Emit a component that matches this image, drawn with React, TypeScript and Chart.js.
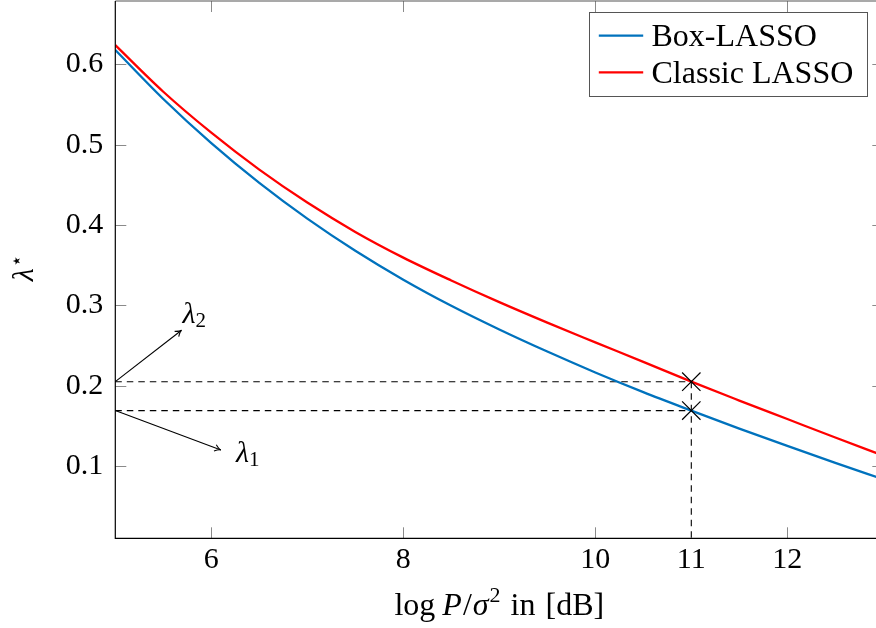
import React, { useEffect, useRef } from "react";
import { Chart, registerables } from "chart.js";

Chart.register(...registerables);

// SNR grid in dB
const snrDb = [5, 5.5, 6, 6.5, 7, 7.5, 8, 8.5, 9, 9.5, 10, 10.5, 11, 11.5, 12, 12.5, 13];
// optimal regularisation parameter lambda* per method
const boxLasso = [0.618, 0.557, 0.502, 0.4525, 0.408, 0.368, 0.332, 0.2995, 0.270, 0.2425, 0.2165, 0.192, 0.169, 0.1465, 0.125, 0.104, 0.0835];
const classicLasso = [0.624, 0.566, 0.515, 0.469, 0.428, 0.3915, 0.3595, 0.331, 0.304, 0.2785, 0.254, 0.2297, 0.205, 0.1815, 0.1585, 0.1355, 0.113];

const seriesNames = ["Box-LASSO", "Classic LASSO"];
const seriesColors = ["#0072BD", "#FF0000"];

const xTickValues = [6, 8, 10, 11, 12];
const xTickMarks = [6, 8, 10, 12];
const yTickValues = [0.1, 0.2, 0.3, 0.4, 0.5, 0.6];

// operating point and the lambda values picked there
const operatingSnr = 11;
const lambda1 = 0.169; // Box-LASSO
const lambda2 = 0.205; // Classic LASSO

const SERIF = "'Liberation Serif', 'Times New Roman', serif";

function drawArrow(ctx: CanvasRenderingContext2D, x0: number, y0: number, x1: number, y1: number) {
  ctx.beginPath();
  ctx.moveTo(x0, y0);
  ctx.lineTo(x1, y1);
  ctx.stroke();
  const ang = Math.atan2(y1 - y0, x1 - x0);
  const len = 7;
  ctx.beginPath();
  ctx.moveTo(x1 - len * Math.cos(ang - 0.5), y1 - len * Math.sin(ang - 0.5));
  ctx.quadraticCurveTo(x1 - 2 * Math.cos(ang), y1 - 2 * Math.sin(ang), x1, y1);
  ctx.quadraticCurveTo(x1 - 2 * Math.cos(ang), y1 - 2 * Math.sin(ang), x1 - len * Math.cos(ang + 0.5), y1 - len * Math.sin(ang + 0.5));
  ctx.stroke();
}

function drawLambda(ctx: CanvasRenderingContext2D, x: number, y: number, sub: string) {
  ctx.font = `italic 30px ${SERIF}`;
  ctx.textAlign = "left";
  ctx.textBaseline = "alphabetic";
  ctx.fillText("λ", x, y);
  const w = ctx.measureText("λ").width;
  ctx.font = `21px ${SERIF}`;
  ctx.fillText(sub, x + w, y + 4);
}

const framePlugin = {
  id: "frame",
  beforeDatasetsDraw(chart: any) {
    const { ctx, chartArea: a, scales } = chart;
    const x = scales.x;
    const y = scales.y;
    const px = x.getPixelForValue(operatingSnr);
    ctx.save();
    ctx.strokeStyle = "#000";
    ctx.lineWidth = 1.1;
    ctx.setLineDash([6.5, 5]);
    [lambda2, lambda1].forEach((v) => {
      const py = y.getPixelForValue(v);
      ctx.beginPath();
      ctx.moveTo(a.left, py);
      ctx.lineTo(px, py);
      ctx.stroke();
    });
    ctx.beginPath();
    ctx.moveTo(px, y.getPixelForValue(lambda2));
    ctx.lineTo(px, a.bottom);
    ctx.stroke();
    ctx.restore();
  },
  afterDraw(chart: any) {
    const { ctx, chartArea: a, scales } = chart;
    const x = scales.x;
    const y = scales.y;
    ctx.save();

    // inward tick marks on all four sides
    ctx.strokeStyle = "#8a8a8a";
    ctx.lineWidth = 1;
    const tl = 11;
    xTickMarks.forEach((v) => {
      const px = Math.round(x.getPixelForValue(v)) + 0.5;
      ctx.beginPath();
      ctx.moveTo(px, a.bottom);
      ctx.lineTo(px, a.bottom - tl);
      ctx.moveTo(px, a.top);
      ctx.lineTo(px, a.top + tl);
      ctx.stroke();
    });
    yTickValues.forEach((v) => {
      const py = Math.round(y.getPixelForValue(v)) + 0.5;
      ctx.beginPath();
      ctx.moveTo(a.left, py);
      ctx.lineTo(a.left + tl, py);
      ctx.moveTo(a.right, py);
      ctx.lineTo(a.right - tl, py);
      ctx.stroke();
    });

    // axis box
    ctx.lineWidth = 1.2;
    ctx.strokeStyle = "#555";
    ctx.beginPath();
    ctx.moveTo(a.left, a.top);
    ctx.lineTo(a.right, a.top);
    ctx.lineTo(a.right, a.bottom);
    ctx.stroke();
    ctx.strokeStyle = "#000";
    ctx.beginPath();
    ctx.moveTo(a.left, a.top);
    ctx.lineTo(a.left, a.bottom);
    ctx.lineTo(a.right, a.bottom);
    ctx.stroke();

    // lambda annotations
    ctx.strokeStyle = "#000";
    ctx.fillStyle = "#000";
    ctx.lineWidth = 1.1;
    drawArrow(ctx, a.left, y.getPixelForValue(lambda2), x.getPixelForValue(5.69), y.getPixelForValue(0.269));
    drawArrow(ctx, a.left, y.getPixelForValue(lambda1), x.getPixelForValue(6.1), y.getPixelForValue(0.12));
    drawLambda(ctx, x.getPixelForValue(5.7), y.getPixelForValue(0.278), "2");
    drawLambda(ctx, x.getPixelForValue(6.257), y.getPixelForValue(0.1045), "1");

    // x-axis title: log P/σ² in [dB]
    const parts: [string, string, number, number][] = [
      ["log", `32px ${SERIF}`, 0, 0],
      ["P", `italic 32px ${SERIF}`, 0, 7],
      ["/", `32px ${SERIF}`, 0, 1],
      ["σ", `italic 32px ${SERIF}`, 0, 1],
      ["2", `22px ${SERIF}`, -13, 1],
      ["in", `32px ${SERIF}`, 0, 10],
      ["[dB]", `32px ${SERIF}`, 0, 10],
    ];
    let total = 0;
    const widths = parts.map(([t, f, , gap]) => {
      ctx.font = f;
      const w = ctx.measureText(t).width;
      total += w + gap;
      return w;
    });
    let cx = (a.left + a.right) / 2 - total / 2;
    const base = 615;
    ctx.textAlign = "left";
    ctx.textBaseline = "alphabetic";
    parts.forEach(([t, f, dy, gap], i) => {
      cx += gap;
      ctx.font = f;
      ctx.fillText(t, cx, base + dy);
      cx += widths[i];
    });

    // y-axis title: λ*
    ctx.save();
    ctx.font = `italic 30px ${SERIF}`;
    const lw = ctx.measureText("λ").width;
    const midY = (a.top + a.bottom) / 2;
    ctx.translate(33, midY + (lw + 10) / 2);
    ctx.rotate(-Math.PI / 2);
    ctx.fillText("λ", 0, 0);
    ctx.font = `20px 'DejaVu Sans', sans-serif`;
    ctx.fillText("⋆", lw + 1, -10);
    ctx.restore();

    // legend
    ctx.font = `32px ${SERIF}`;
    const textW = Math.max(...seriesNames.map((n) => ctx.measureText(n).width));
    const boxW = 62.7 + textW + 14;
    const boxR = a.right - 16;
    const boxL = boxR - boxW;
    const boxT = a.top + 11.3;
    const boxH = 84.4;
    ctx.fillStyle = "#fff";
    ctx.fillRect(boxL, boxT, boxW, boxH);
    ctx.strokeStyle = "#555";
    ctx.lineWidth = 1;
    ctx.strokeRect(Math.round(boxL) + 0.5, Math.round(boxT) + 0.5, Math.round(boxW), Math.round(boxH));
    seriesNames.forEach((name, i) => {
      const ly = boxT + 23.4 + i * 36.6;
      ctx.strokeStyle = seriesColors[i];
      ctx.lineWidth = 2.2;
      ctx.beginPath();
      ctx.moveTo(boxL + 10, ly);
      ctx.lineTo(boxL + 54.4, ly);
      ctx.stroke();
      ctx.fillStyle = "#000";
      ctx.textBaseline = "alphabetic";
      ctx.fillText(name, boxL + 62.7, ly + 10.5);
    });

    ctx.restore();
  },
};

export default function App() {
  const canvasRef = useRef<HTMLCanvasElement | null>(null);

  useEffect(() => {
    const canvas = canvasRef.current;
    if (!canvas) return;
    const toPoints = (vals: number[]) => snrDb.map((s, i) => ({ x: s, y: vals[i] }));
    const chart = new Chart(canvas, {
      type: "line",
      data: {
        datasets: [
          {
            label: "markers",
            data: [
              { x: operatingSnr, y: lambda2 },
              { x: operatingSnr, y: lambda1 },
            ],
            showLine: false,
            pointStyle: "crossRot",
            pointRadius: 13,
            pointBorderColor: "#000",
            pointBorderWidth: 1.2,
            borderColor: "#000",
            order: 0,
          },
          {
            label: seriesNames[1],
            data: toPoints(classicLasso),
            borderColor: seriesColors[1],
            borderWidth: 2.3,
            pointRadius: 0,
            cubicInterpolationMode: "monotone",
            fill: false,
            order: 1,
          },
          {
            label: seriesNames[0],
            data: toPoints(boxLasso),
            borderColor: seriesColors[0],
            borderWidth: 2.3,
            pointRadius: 0,
            cubicInterpolationMode: "monotone",
            fill: false,
            order: 2,
          },
        ],
      },
      options: {
        animation: false,
        responsive: false,
        events: [],
        layout: { autoPadding: false, padding: { top: 1, right: 6.7, left: 0, bottom: 0 } },
        plugins: { legend: { display: false }, tooltip: { enabled: false } },
        scales: {
          x: {
            type: "linear",
            min: 5,
            max: 13,
            grid: { display: false, drawTicks: false },
            border: { display: false },
            afterBuildTicks: (s: any) => {
              s.ticks = xTickValues.map((v) => ({ value: v }));
            },
            afterFit: (s: any) => {
              s.height = 89.7;
              s.paddingLeft = 0;
              s.paddingRight = 0;
            },
            ticks: {
              font: { family: SERIF, size: 30 },
              color: "#000",
              padding: 4,
              maxRotation: 0,
              autoSkip: false,
              callback: (v: any) => String(v),
            },
          },
          y: {
            type: "linear",
            min: 0.01,
            max: 0.679,
            grid: { display: false, drawTicks: false },
            border: { display: false },
            afterBuildTicks: (s: any) => {
              s.ticks = yTickValues.map((v) => ({ value: v }));
            },
            afterFit: (s: any) => {
              s.width = 115.3;
              s.paddingTop = 0;
              s.paddingBottom = 0;
            },
            ticks: {
              font: { family: SERIF, size: 30 },
              color: "#000",
              padding: 12,
              autoSkip: false,
              callback: (v: any) => Number(v).toFixed(1),
            },
          },
        },
      },
      plugins: [framePlugin],
    });
    return () => chart.destroy();
  }, []);

  return (
    <div
      style={{
        position: "fixed",
        left: 0,
        top: 0,
        width: 876,
        height: 628,
        overflow: "hidden",
        background: "#fff",
      }}
    >
      <canvas ref={canvasRef} width={890} height={628} style={{ display: "block" }} />
    </div>
  );
}
